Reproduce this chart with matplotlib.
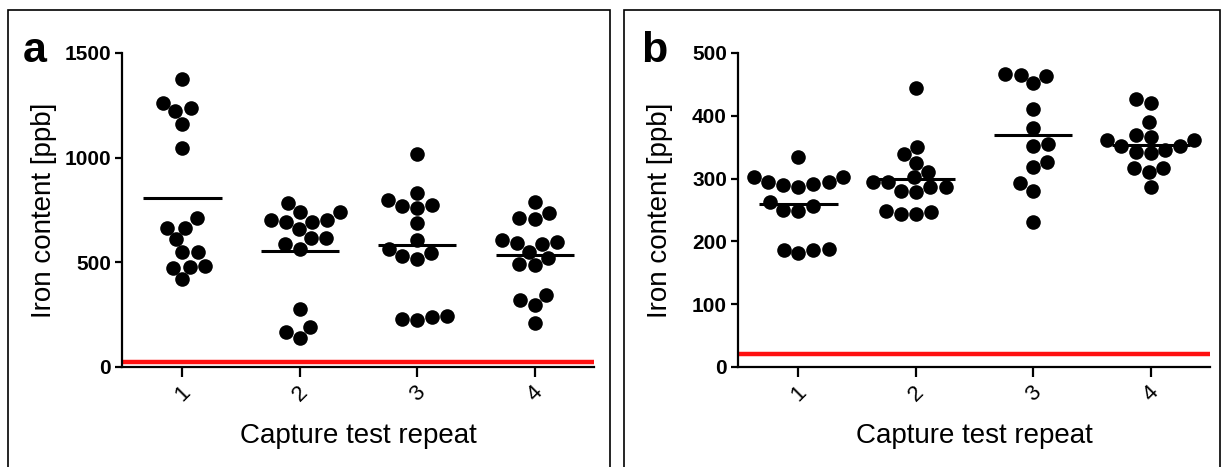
import matplotlib
matplotlib.use('agg')
import matplotlib.pyplot as plt
import matplotlib.patches as mpatches
import numpy as np
import pandas as pd
import seaborn as sns

plt.rcParams['font.family'] = ['Liberation Sans', 'DejaVu Sans']

repeats = ['1', '2', '3', '4']

# panel a, iron content [ppb] per capture test repeat
a_rep1 = [1377, 1261, 1237, 1224, 1162, 1045, 710, 665, 665, 610, 551, 547, 479, 471, 483, 418]
a_rep2 = [782, 739, 742, 702, 702, 694, 694, 657, 614, 617, 587, 566, 279, 191, 168, 140]
a_rep3 = [1018, 833, 769, 798, 774, 758, 686, 606, 562, 530, 514, 543, 239, 223, 228, 243]
a_rep4 = [787, 734, 705, 713, 606, 594, 586, 598, 551, 519, 487, 490, 343, 319, 295, 211]
a_limit = 25

# panel b
b_rep1 = [334, 302, 302, 295, 292, 287, 290, 294, 262, 256, 250, 249, 187, 181, 186, 188]
b_rep2 = [445, 350, 339, 325, 310, 302, 295, 287, 281, 279, 287, 295, 247, 244, 244, 249]
b_rep3 = [467, 464, 452, 465, 411, 380, 355, 352, 327, 318, 293, 281, 231]
b_rep4 = [427, 421, 390, 367, 361, 352, 343, 340, 346, 352, 361, 370, 317, 310, 317, 287]
b_limit = 20


def long_table(groups):
    rows = []
    for lab, vals in zip(repeats, groups):
        for v in vals:
            rows.append((lab, v))
    return pd.DataFrame(rows, columns=['repeat', 'iron'])


fig = plt.figure(figsize=(12.22, 4.67), dpi=100)

# panel frames
for x0, w in [(8 / 1222, 602 / 1222), (624 / 1222, 596 / 1222)]:
    fig.patches.append(mpatches.Rectangle((x0, -0.05), w, 1.05 - 10 / 467,
                                          transform=fig.transFigure, fill=False,
                                          edgecolor='black', linewidth=1.2))

panels = [
    ('a', [a_rep1, a_rep2, a_rep3, a_rep4], a_limit, 1500, 500, 122, 23),
    ('b', [b_rep1, b_rep2, b_rep3, b_rep4], b_limit, 500, 100, 738, 641),
]

for letter, groups, limit, ymax, ystep, left_px, letter_px in panels:
    ax = fig.add_axes([left_px / 1222, 1 - 367 / 467, 472 / 1222, 314 / 467])
    df = long_table(groups)
    ax.axhline(limit, color='#ff1010', linewidth=3.2, zorder=1)
    sns.swarmplot(data=df, x='repeat', y='iron', order=repeats, color='black',
                  size=10.5, ax=ax, zorder=3)
    means = [np.mean(g) for g in groups]
    ax.hlines(means, np.arange(4) - 0.333, np.arange(4) + 0.333,
              color='black', linewidth=2.2, zorder=4)

    ax.set_xlim(-0.515, 3.505)
    ax.set_ylim(0, ymax)
    ax.set_yticks(np.arange(0, ymax + 1, ystep))
    for s in ['top', 'right']:
        ax.spines[s].set_visible(False)
    ax.spines['left'].set_linewidth(1.6)
    ax.spines['bottom'].set_linewidth(1.6)
    ax.tick_params(axis='y', length=5, width=1.6, labelsize=15, pad=3)
    ax.tick_params(axis='x', length=7, width=1.6, labelsize=16, pad=4)
    for t in ax.get_yticklabels():
        t.set_fontweight('bold')
    plt.setp(ax.get_xticklabels(), rotation=45, ha='center')
    ax.set_xlabel('Capture test repeat', fontsize=20, labelpad=12)
    ax.set_ylabel('Iron content [ppb]', fontsize=20)
    ax.yaxis.set_label_coords(-0.138, 0.5)
    ax.patch.set_alpha(0)

    fig.text(letter_px / 1222, 1 - 62 / 467, letter, fontsize=31,
             fontweight='bold', ha='left', va='baseline')

fig.savefig('out.png', dpi=100)
